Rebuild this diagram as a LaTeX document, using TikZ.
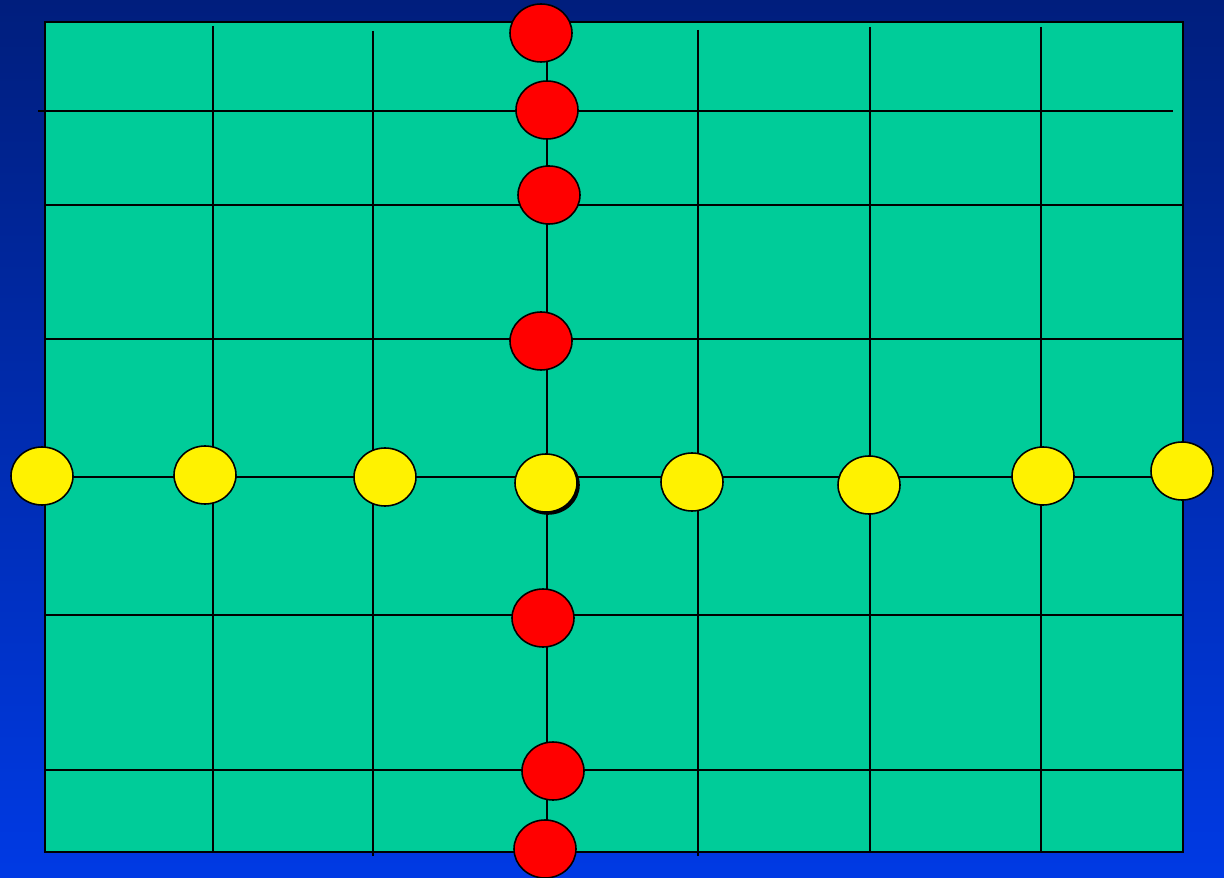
\documentclass[tikz,border=0pt]{standalone}
\usepackage{tikz}
\usetikzlibrary{shapes.geometric}

\definecolor{bgtop}{RGB}{0,30,125}
\definecolor{bgbottom}{RGB}{0,58,228}
\definecolor{board}{RGB}{0,204,153}

\begin{document}
\begin{tikzpicture}[
      x=0.02cm, y=-0.02cm,
      gridline/.style={draw=black, line width=1.1pt},
      dot/.style={ellipse, draw=black, line width=0.9pt, inner sep=0pt, minimum width=1.24cm, minimum height=1.16cm},
      reddot/.style={dot, fill=red},
      yellowdot/.style={dot, fill=yellow}
    ]
      % background and board
      \shade[top color=bgtop, bottom color=bgbottom] (0,0) rectangle (1224,878);
      \useasboundingbox (0,0) rectangle (1224,878);
      \filldraw[fill=board, draw=black, line width=1.2pt] (45,22) rectangle (1183,852);

      % horizontal lines
      \draw[gridline] (38,111) -- (1173,111);
      \draw[gridline] (46,205) -- (1182,205);
      \draw[gridline] (46,339) -- (1182,339);
      \draw[gridline] (42,477) -- (1183,477);
      \draw[gridline] (46,615) -- (1182,615);
      \draw[gridline] (46,770) -- (1182,770);

      % vertical lines
      \draw[gridline] (213,26) -- (213,852);
      \draw[gridline] (373,31) -- (373,856);
      \draw[gridline] (547,33) -- (547,850);
      \draw[gridline] (698,30) -- (698,856);
      \draw[gridline] (870,27) -- (870,852);
      \draw[gridline] (1041,27) -- (1041,852);

      % red pieces
      \node[reddot] (r1) at (541,33) {};
      \node[reddot] (r2) at (547,110) {};
      \node[reddot] (r3) at (549,195) {};
      \node[reddot] (r4) at (541,341) {};
      \node[reddot] (r5) at (543,618) {};
      \node[reddot] (r6) at (553,771) {};
      \node[reddot] (r7) at (545,849) {};

      % yellow pieces
      \node[yellowdot] (y1) at (42,476) {};
      \node[yellowdot] (y2) at (205,475) {};
      \node[yellowdot] (y3) at (385,477) {};
      \node[dot, fill=black] at (548,485) {};
      \node[yellowdot] (y4) at (546,483) {};
      \node[yellowdot] (y5) at (692,482) {};
      \node[yellowdot] (y6) at (869,485) {};
      \node[yellowdot] (y7) at (1043,476) {};
      \node[yellowdot] (y8) at (1182,471) {};
    \end{tikzpicture}
\end{document}
